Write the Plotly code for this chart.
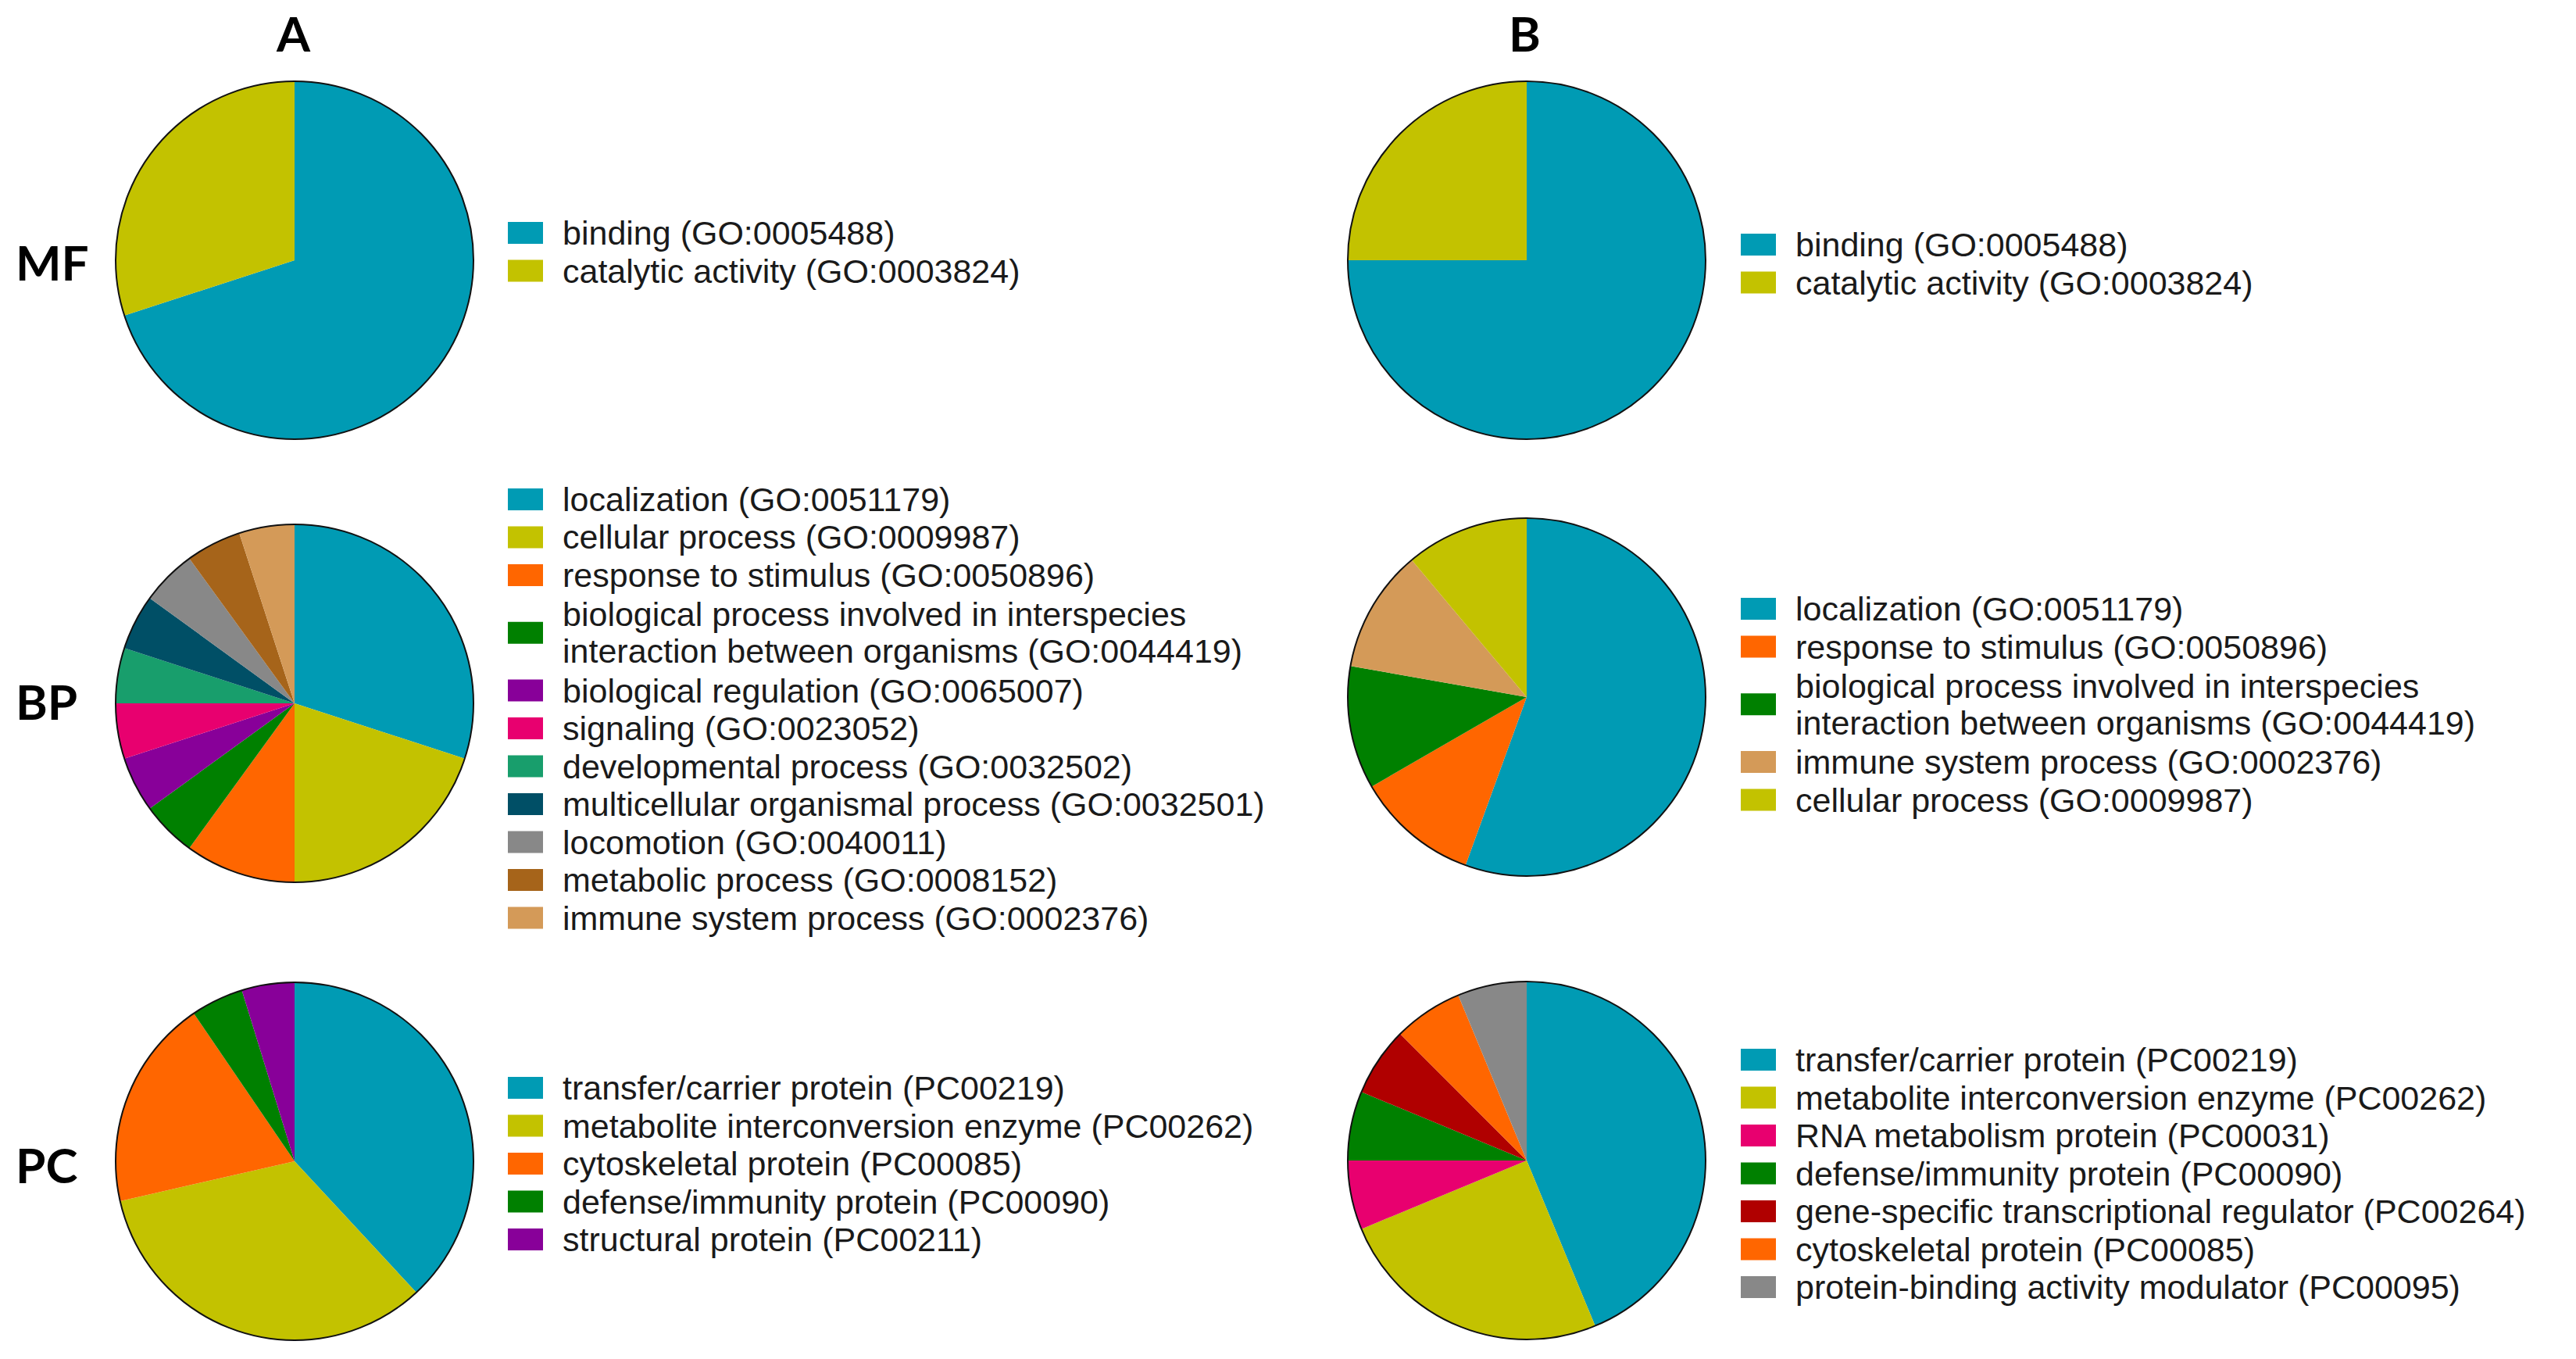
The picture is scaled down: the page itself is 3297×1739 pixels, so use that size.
import plotly.graph_objects as go

W, H = 3297, 1739

# ---- data (gene counts per GO / PANTHER class) ----
MF_LABELS_A = ["binding (GO:0005488)", "catalytic activity (GO:0003824)"]
MF_VALUES_A = [7, 3]
MF_LABELS_B = ["binding (GO:0005488)", "catalytic activity (GO:0003824)"]
MF_VALUES_B = [3, 1]

BP_LABELS_A = [
    "localization (GO:0051179)",
    "cellular process (GO:0009987)",
    "response to stimulus (GO:0050896)",
    "biological process involved in interspecies\ninteraction between organisms (GO:0044419)",
    "biological regulation (GO:0065007)",
    "signaling (GO:0023052)",
    "developmental process (GO:0032502)",
    "multicellular organismal process (GO:0032501)",
    "locomotion (GO:0040011)",
    "metabolic process (GO:0008152)",
    "immune system process (GO:0002376)",
]
BP_VALUES_A = [6, 4, 2, 1, 1, 1, 1, 1, 1, 1, 1]
BP_LABELS_B = [
    "localization (GO:0051179)",
    "response to stimulus (GO:0050896)",
    "biological process involved in interspecies\ninteraction between organisms (GO:0044419)",
    "immune system process (GO:0002376)",
    "cellular process (GO:0009987)",
]
BP_VALUES_B = [5, 1, 1, 1, 1]

PC_LABELS_A = [
    "transfer/carrier protein (PC00219)",
    "metabolite interconversion enzyme (PC00262)",
    "cytoskeletal protein (PC00085)",
    "defense/immunity protein (PC00090)",
    "structural protein (PC00211)",
]
PC_VALUES_A = [8, 7, 4, 1, 1]
PC_LABELS_B = [
    "transfer/carrier protein (PC00219)",
    "metabolite interconversion enzyme (PC00262)",
    "RNA metabolism protein (PC00031)",
    "defense/immunity protein (PC00090)",
    "gene-specific transcriptional regulator (PC00264)",
    "cytoskeletal protein (PC00085)",
    "protein-binding activity modulator (PC00095)",
]
PC_VALUES_B = [7, 4, 1, 1, 1, 1, 1]

COLORS = {
    "binding": "#009BB4", "catalytic activity": "#C3C200",
    "localization": "#009BB4", "cellular process": "#C3C200",
    "response to stimulus": "#FF6600", "biological process": "#008000",
    "biological regulation": "#880099", "signaling": "#E8006F",
    "developmental process": "#189E6C", "multicellular organismal process": "#004F66",
    "locomotion": "#888888", "metabolic process": "#A6641A",
    "immune system process": "#D49A58",
    "transfer/carrier protein": "#009BB4", "metabolite interconversion enzyme": "#C3C200",
    "cytoskeletal protein": "#FF6600", "defense/immunity protein": "#008000",
    "structural protein": "#880099", "RNA metabolism protein": "#E8006F",
    "gene-specific transcriptional regulator": "#B00000",
    "protein-binding activity modulator": "#888888",
}


def color_of(label):
    name = label.split(" (")[0].split(" involved")[0]
    return COLORS[name]


def px(x, y):
    return x / W, 1 - y / H


R = 229
LINE_H = 48.5
TEXT_FONT = dict(family="Arial, Liberation Sans", size=43, color="#1a1a1a")
HEAD_FONT = dict(family="Lato, Arial", size=62, color="black")

# (labels, values, pie centre x, y, legend x, first legend row y)
panels = [
    (MF_LABELS_A, MF_VALUES_A, 377, 333, 650, 298),
    (BP_LABELS_A, BP_VALUES_A, 377, 900, 650, 639),
    (PC_LABELS_A, PC_VALUES_A, 377, 1486, 650, 1392),
    (MF_LABELS_B, MF_VALUES_B, 1954, 333, 2228, 313),
    (BP_LABELS_B, BP_VALUES_B, 1954, 892, 2228, 779),
    (PC_LABELS_B, PC_VALUES_B, 1954, 1485, 2228, 1356),
]

fig = go.Figure()
shapes, annotations = [], []

for labels, values, cx, cy, lx, ly in panels:
    x0, y1 = px(cx - R, cy - R)
    x1, y0 = px(cx + R, cy + R)
    dom = dict(x=[x0, x1], y=[y0, y1])
    fig.add_trace(go.Pie(
        labels=labels, values=values, domain=dom, sort=False, direction="clockwise",
        rotation=0, textinfo="none", showlegend=False,
        marker=dict(colors=[color_of(l) for l in labels], line=dict(width=0)),
    ))
    # thin dark rim round the circumference only
    fig.add_trace(go.Pie(
        values=[1], domain=dom, textinfo="none", showlegend=False, hoverinfo="skip",
        marker=dict(colors=["rgba(0,0,0,0)"], line=dict(color="#111", width=2)),
    ))

    cursor = ly - LINE_H / 2
    for label in labels:
        lines = label.split("\n")
        h = LINE_H * len(lines) + (2 if len(lines) > 1 else 0)
        mid = cursor + h / 2
        sx0, sy1 = px(lx, mid - 14)
        sx1, sy0 = px(lx + 45, mid + 14)
        shapes.append(dict(type="rect", xref="paper", yref="paper", x0=sx0, x1=sx1,
                           y0=sy0, y1=sy1, fillcolor=color_of(label), line=dict(width=0)))
        for i, line in enumerate(lines):
            tx, ty = px(lx + 68, mid + (i - (len(lines) - 1) / 2) * 47)
            annotations.append(dict(x=tx, y=ty, xref="paper", yref="paper", text=line,
                                    showarrow=False, xanchor="left", yanchor="middle",
                                    font=TEXT_FONT))
        cursor += h

for text, x, y in [("A", 375, 42), ("B", 1951, 42), ("MF", 67, 335),
                   ("BP", 60, 897), ("PC", 59, 1490)]:
    ax, ay = px(x, y)
    annotations.append(dict(x=ax, y=ay, xref="paper", yref="paper", text=f"<b>{text}</b>",
                            showarrow=False, xanchor="center", yanchor="middle",
                            font=HEAD_FONT))

fig.update_layout(
    width=W, height=H, margin=dict(l=0, r=0, t=0, b=0),
    paper_bgcolor="white", plot_bgcolor="white",
    shapes=shapes, annotations=annotations,
)
# drop the browser's default 8px body margin so the figure sits flush
fig.write_html("out.html", config={"displayModeBar": False},
               post_script="document.body.style.margin = '0';")
